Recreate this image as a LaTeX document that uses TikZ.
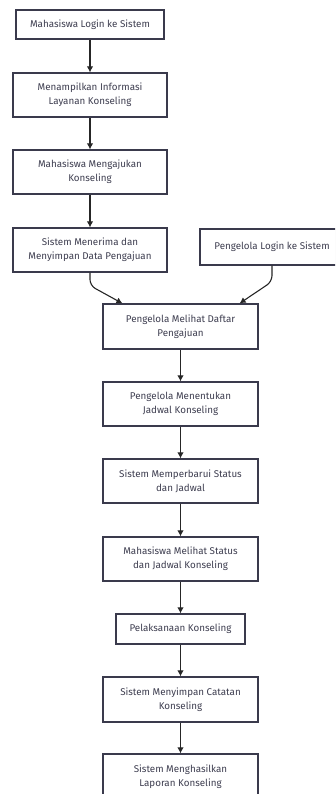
\documentclass[tikz,border=0pt]{standalone}
\usepackage{fontspec}
\setmainfont{Fira Sans}
\usetikzlibrary{arrows.meta,shadows}

\definecolor{boxline}{HTML}{3A3A4C}
\definecolor{boxtext}{HTML}{3E3E50}

\tikzset{
  stepbox/.style={draw=boxline, line width=1.2pt, fill=white, align=center,
    text=boxtext, inner sep=0pt, font=\fontsize{9.8}{14}\selectfont,
    drop shadow={shadow xshift=1pt, shadow yshift=-1pt, opacity=0.2}},
  flow/.style={-{Latex[length=6pt,width=6.5pt]}, line width=1.1pt, draw=black!85}
}

\begin{document}
\begin{tikzpicture}[x=1pt, y=-1pt]

% Frame
\useasboundingbox (0,0) rectangle (335,794);
\clip (0,0) rectangle (335,794);

% Steps, left column
\node[stepbox, minimum width=148, minimum height=29] (mLogin) at (90,24.5) {Mahasiswa Login ke Sistem};
\node[stepbox, minimum width=154, minimum height=44] (info) at (90,95) {Menampilkan Informasi\\Layanan Konseling};
\node[stepbox, minimum width=154, minimum height=44] (ajukan) at (90,172) {Mahasiswa Mengajukan\\Konseling};
\node[stepbox, minimum width=154, minimum height=44] (terima) at (90,250) {Sistem Menerima dan\\Menyimpan Data Pengajuan};

% Steps, right column
\node[stepbox, minimum width=144, minimum height=36] (pLogin) at (272,247) {Pengelola Login ke Sistem};

% Steps, main column
\node[stepbox, minimum width=155, minimum height=45] (daftar) at (180.5,326.5) {Pengelola Melihat Daftar\\Pengajuan};
\node[stepbox, minimum width=155, minimum height=44] (jadwal) at (180.5,404) {Pengelola Menentukan\\Jadwal Konseling};
\node[stepbox, minimum width=155, minimum height=44] (status) at (180.5,481) {Sistem Memperbarui Status\\dan Jadwal};
\node[stepbox, minimum width=155, minimum height=44] (lihat) at (180.5,559) {Mahasiswa Melihat Status\\dan Jadwal Konseling};
\node[stepbox, minimum width=129, minimum height=30] (laksana) at (180.5,629) {Pelaksanaan Konseling};
\node[stepbox, minimum width=155, minimum height=45] (catatan) at (180.5,699.5) {Sistem Menyimpan Catatan\\Konseling};
\node[stepbox, minimum width=155, minimum height=45] (laporan) at (180.5,776.5) {Sistem Menghasilkan\\Laporan Konseling};

% Connectors
\draw[flow] (mLogin) -- (info);
\draw[flow] (info) -- (ajukan);
\draw[flow] (ajukan) -- (terima);
\draw[flow, rounded corners=6pt] (terima.south) -- ++(0,13) -- ([xshift=20pt]daftar.north west);
\draw[flow, rounded corners=6pt] (pLogin.south) -- ++(0,16) -- ([xshift=-19pt]daftar.north east);
\draw[flow] (daftar) -- (jadwal);
\draw[flow] (jadwal) -- (status);
\draw[flow] (status) -- (lihat);
\draw[flow] (lihat) -- (laksana);
\draw[flow] (laksana) -- (catatan);
\draw[flow] (catatan) -- (laporan);

\end{tikzpicture}
\end{document}
